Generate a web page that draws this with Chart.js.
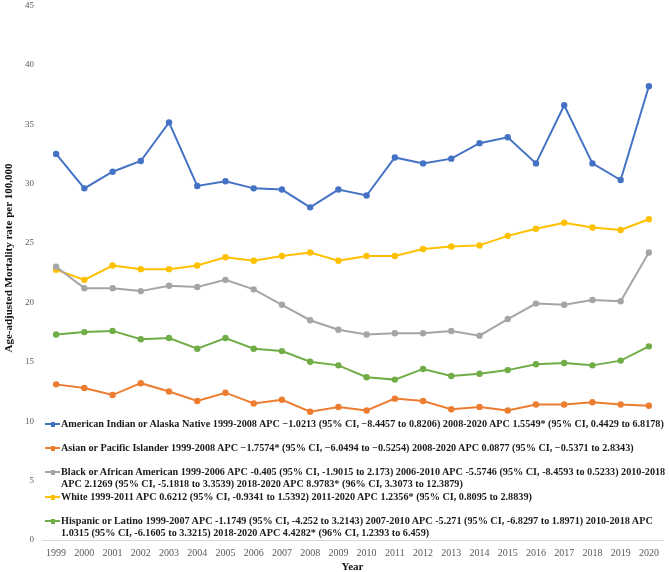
<!DOCTYPE html>
<html>
<head>
<meta charset="utf-8">
<script src="https://cdn.jsdelivr.net/npm/chart.js@4.4.1/dist/chart.umd.min.js"></script>
<style>
  html, body { margin: 0; padding: 0; background: #ffffff; }
  #wrap { position: relative; width: 669px; height: 572px; }
  #chart { position: absolute; left: 0; top: 0; }
  .lg { position: absolute; left: 45px; font: bold 10.2px "Liberation Serif", "Times New Roman", serif; line-height: 11.7px; color: #1a1a1a; white-space: nowrap; }
  .lg .mk { position: absolute; left: 0; top: 5px; width: 15px; height: 2px; }
  .lg .mk i { position: absolute; left: 5.5px; top: -1.5px; width: 4px; height: 5px; }
  .lg .tx { position: absolute; left: 16px; top: 0; }
</style>
</head>
<body>
<div id="wrap">
  <canvas id="chart" width="669" height="572"></canvas>
  <div id="legend"></div>
</div>
<script>
const years = ['1999','2000','2001','2002','2003','2004','2005','2006','2007','2008','2009','2010','2011','2012','2013','2014','2015','2016','2017','2018','2019','2020'];

const americanIndian = [32.5, 29.6, 31.0, 31.9, 35.15, 29.8, 30.2, 29.6, 29.5, 28.0, 29.5, 29.0, 32.2, 31.7, 32.1, 33.4, 33.9, 31.7, 36.6, 31.7, 30.3, 38.2];
const asianPacific   = [13.1, 12.8, 12.2, 13.2, 12.5, 11.7, 12.4, 11.5, 11.8, 10.8, 11.2, 10.9, 11.9, 11.7, 11.0, 11.2, 10.9, 11.4, 11.4, 11.6, 11.4, 11.3];
const blackAfrican   = [23.0, 21.2, 21.2, 20.95, 21.4, 21.3, 21.9, 21.1, 19.8, 18.5, 17.7, 17.3, 17.4, 17.4, 17.6, 17.2, 18.6, 19.9, 19.8, 20.2, 20.1, 24.2];
const white          = [22.75, 21.9, 23.1, 22.8, 22.8, 23.1, 23.8, 23.5, 23.9, 24.2, 23.5, 23.9, 23.9, 24.5, 24.7, 24.8, 25.6, 26.2, 26.7, 26.3, 26.1, 27.0];
const hispanic       = [17.3, 17.5, 17.6, 16.9, 17.0, 16.1, 17.0, 16.1, 15.9, 15.0, 14.7, 13.7, 13.5, 14.4, 13.8, 14.0, 14.3, 14.8, 14.9, 14.7, 15.1, 16.3];

const yTicks = [0, 5, 10, 15, 20, 25, 30, 35, 40, 45];
const xTitle = 'Year';
const yTitle = 'Age-adjusted Mortality rate per 100,000';

const seriesNames = ['American Indian or Alaska Native', 'Asian or Pacific Islander', 'Black or African American', 'White', 'Hispanic or Latino'];
const seriesColors = ['#4472C4', '#ED7D31', '#A5A5A5', '#FFC000', '#70AD47'];
const legendLines = [
  ['American Indian or Alaska Native 1999-2008 APC \u22121.0213 (95% CI, \u22128.4457 to 0.8206) 2008-2020 APC 1.5549* (95% CI, 0.4429 to 6.8178)'],
  ['Asian or Pacific Islander 1999-2008 APC \u22121.7574* (95% CI, \u22126.0494 to \u22120.5254) 2008-2020 APC 0.0877 (95% CI, \u22120.5371 to 2.8343)'],
  ['Black or African American 1999-2006 APC -0.405 (95% CI, -1.9015 to 2.173) 2006-2010 APC -5.5746 (95% CI, -8.4593 to 0.5233) 2010-2018',
   'APC 2.1269 (95% CI, -5.1818 to 3.3539) 2018-2020 APC 8.9783* (96% CI, 3.3073 to 12.3879)'],
  ['White 1999-2011 APC 0.6212 (95% CI, -0.9341 to 1.5392) 2011-2020 APC 1.2356* (95% CI, 0.8095 to 2.8839)'],
  ['Hispanic or Latino 1999-2007 APC -1.1749 (95% CI, -4.252 to 3.2143) 2007-2010 APC -5.271 (95% CI, -6.8297 to 1.8971) 2010-2018 APC',
   '1.0315 (95% CI, -6.1605 to 3.3215) 2018-2020 APC 4.4282* (96% CI, 1.2393 to 6.459)']
];
const legendTops = [418, 442, 466, 491, 515];

const allValues = [americanIndian, asianPacific, blackAfrican, white, hispanic];

const datasets = allValues.map((vals, i) => ({
  label: seriesNames[i],
  data: vals,
  borderColor: seriesColors[i],
  backgroundColor: seriesColors[i],
  borderWidth: 2,
  pointRadius: 2.2,
  pointHoverRadius: 2.2,
  pointStyle: 'circle',
  tension: 0,
  fill: false
}));

const yTitlePlugin = {
  id: 'yTitlePlugin',
  afterDraw(chart) {
    const ctx = chart.ctx;
    ctx.save();
    ctx.translate(9, 258);
    ctx.rotate(-Math.PI / 2);
    ctx.font = 'bold 11px "Liberation Serif", "Times New Roman", serif';
    ctx.fillStyle = '#111111';
    ctx.textAlign = 'center';
    ctx.textBaseline = 'middle';
    ctx.fillText(yTitle, 0, 0);
    ctx.restore();
  }
};

new Chart(document.getElementById('chart'), {
  type: 'line',
  data: { labels: years, datasets: datasets },
  plugins: [yTitlePlugin],
  options: {
    responsive: false,
    animation: false,
    devicePixelRatio: 1,
    layout: { padding: { top: 0, right: 6, left: 0, bottom: 0 } },
    plugins: {
      legend: { display: false },
      tooltip: { enabled: false }
    },
    scales: {
      x: {
        offset: true,
        grid: { display: false, drawTicks: false },
        border: { display: true, color: '#D9D9D9', width: 1 },
        ticks: {
          padding: 7,
          maxRotation: 0,
          autoSkip: false,
          color: '#595959',
          font: { family: '"Liberation Serif", "Times New Roman", serif', size: 10 }
        },
        title: {
          display: true,
          text: xTitle,
          color: '#111111',
          padding: { top: 0, bottom: 0 },
          font: { family: '"Liberation Serif", "Times New Roman", serif', size: 11, weight: 'bold', lineHeight: 0.9 }
        },
        afterFit(scale) { scale.height = 32; }
      },
      y: {
        min: 0,
        max: 45,
        afterBuildTicks(scale) { scale.ticks = yTicks.map(v => ({ value: v })); },
        grid: { display: true, drawOnChartArea: false, drawTicks: true, tickLength: 8, color: 'rgba(0,0,0,0)' },
        border: { display: false },
        ticks: {
          padding: 0,
          color: '#595959',
          font: { family: '"Liberation Serif", "Times New Roman", serif', size: 9 }
        },
        afterFit(scale) { scale.width = 42; }
      }
    }
  }
});

const legendEl = document.getElementById('legend');
legendLines.forEach((lines, i) => {
  const d = document.createElement('div');
  d.className = 'lg';
  d.style.top = legendTops[i] + 'px';
  const mk = document.createElement('div');
  mk.className = 'mk';
  mk.style.background = seriesColors[i];
  const dot = document.createElement('i');
  dot.style.background = seriesColors[i];
  mk.appendChild(dot);
  d.appendChild(mk);
  const tx = document.createElement('div');
  tx.className = 'tx';
  tx.innerHTML = lines.map(s => s.replace(/&/g, '&amp;').replace(/</g, '&lt;')).join('<br>');
  d.appendChild(tx);
  legendEl.appendChild(d);
});
</script>
</body>
</html>
